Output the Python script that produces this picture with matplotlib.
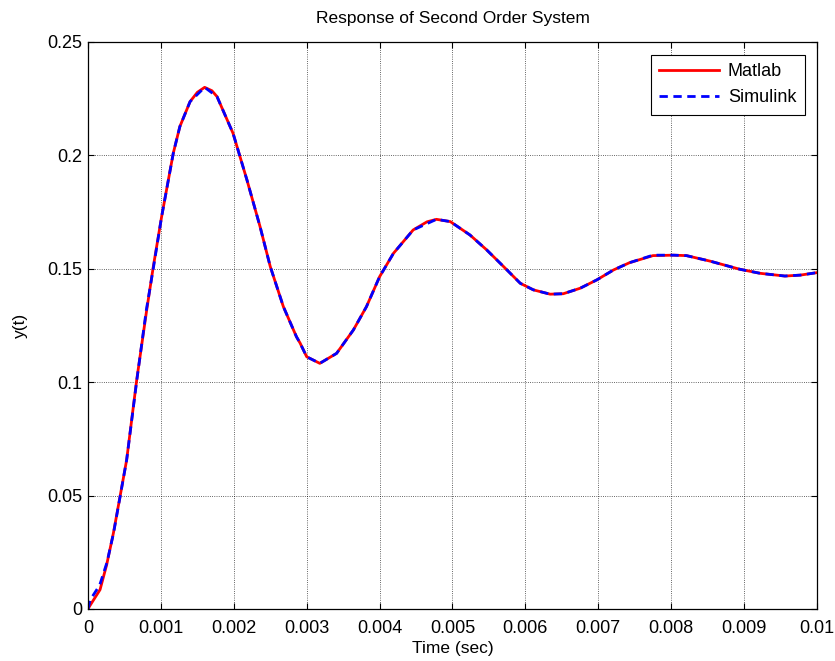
import matplotlib.pyplot as plt

# step response
t_matlab = [0, 0.000027, 0.000165, 0.000256, 0.000348, 0.000439, 0.00053, 0.000668,
            0.000805, 0.000896, 0.00101, 0.00117, 0.00126, 0.0014, 0.0015, 0.0016,
            0.0017, 0.00177, 0.00199, 0.00218, 0.00236, 0.0025, 0.00268, 0.00286,
            0.00291, 0.003, 0.00318, 0.00341, 0.00364, 0.00382, 0.004, 0.00419,
            0.00446, 0.00465, 0.00478, 0.00497, 0.00524, 0.00547, 0.0057, 0.00593,
            0.00611, 0.00634, 0.00652, 0.00675, 0.00698, 0.00721, 0.00743, 0.00775,
            0.00803, 0.00821, 0.00853, 0.00894, 0.00922, 0.00956, 0.00977, 0.01]
y_matlab = [0, 0.0015, 0.0085, 0.0195, 0.0334, 0.0495, 0.0657, 0.101,
            0.1318, 0.151, 0.173, 0.201, 0.2127, 0.2237, 0.2278, 0.2300,
            0.2285, 0.2259, 0.2097, 0.1892, 0.1686, 0.151, 0.1333, 0.12,
            0.1172, 0.1112, 0.1083, 0.1127, 0.123, 0.1333, 0.1465, 0.1568,
            0.1671, 0.1707, 0.1718, 0.1708, 0.1649, 0.1583, 0.151, 0.1436,
            0.1407, 0.1388, 0.1390, 0.1414, 0.1451, 0.1495, 0.1527, 0.1558,
            0.1560, 0.1558, 0.1534, 0.1498, 0.148, 0.1468, 0.1472, 0.1483]

t_simulink = [0, 0.00003, 0.00016, 0.00026, 0.00035, 0.00044, 0.00053, 0.00067,
              0.0008, 0.0009, 0.00101, 0.00117, 0.00126, 0.0014, 0.0016, 0.00177,
              0.00199, 0.00218, 0.00236, 0.0025, 0.00268, 0.00286, 0.00291, 0.003,
              0.00318, 0.00341, 0.00364, 0.00382, 0.004, 0.00419, 0.00446, 0.00478,
              0.00497, 0.00524, 0.00547, 0.0057, 0.00593, 0.00611, 0.00634, 0.00652,
              0.00675, 0.00698, 0.00721, 0.00743, 0.00775, 0.00803, 0.00821, 0.00853,
              0.00894, 0.00922, 0.00956, 0.00977, 0.01]
y_simulink = [0, 0.004, 0.0105, 0.0205, 0.0334, 0.0495, 0.0657, 0.101,
              0.1318, 0.151, 0.173, 0.201, 0.2127, 0.2237, 0.2300, 0.2259,
              0.2097, 0.1892, 0.1686, 0.151, 0.1333, 0.12, 0.1172, 0.1112,
              0.1083, 0.1127, 0.123, 0.1333, 0.1465, 0.1568, 0.1671, 0.1718,
              0.1708, 0.1649, 0.1583, 0.151, 0.1436, 0.1407, 0.1388, 0.1390,
              0.1414, 0.1451, 0.1495, 0.1527, 0.1560, 0.1560, 0.1558, 0.1534,
              0.1498, 0.148, 0.1468, 0.1472, 0.1483]

x_ticks = [0, 0.001, 0.002, 0.003, 0.004, 0.005, 0.006, 0.007, 0.008, 0.009, 0.01]
x_tick_labels = ['0', '0.001', '0.002', '0.003', '0.004', '0.005', '0.006',
                 '0.007', '0.008', '0.009', '0.01']
y_ticks = [0, 0.05, 0.1, 0.15, 0.2, 0.25]
y_tick_labels = ['0', '0.05', '0.1', '0.15', '0.2', '0.25']

plt.rcParams['font.family'] = ['Liberation Sans', 'DejaVu Sans']

fig = plt.figure(figsize=(8.35, 6.61), dpi=100)
ax = fig.add_axes([0.1054, 0.0787, 0.8730, 0.8578])

ax.plot(t_matlab, y_matlab, color='red', linewidth=2, label='Matlab')
ax.plot(t_simulink, y_simulink, color='blue', linewidth=2, linestyle='--',
        dashes=(3, 2), label='Simulink')

ax.set_xlim(0, 0.01)
ax.set_ylim(0, 0.25)
ax.set_xticks(x_ticks)
ax.set_xticklabels(x_tick_labels)
ax.set_yticks(y_ticks)
ax.set_yticklabels(y_tick_labels)
ax.tick_params(direction='in', top=True, right=True, length=4, labelsize=13,
               width=0.8)
ax.tick_params(axis='x', pad=8)
ax.tick_params(axis='y', pad=4)
ax.grid(True, color='black', linestyle=':', linewidth=0.6, alpha=0.8)
for s in ax.spines.values():
    s.set_linewidth(0.9)

ax.set_title('Response of Second Order System', fontsize=12.5, pad=14)
ax.set_xlabel('Time (sec)', fontsize=12.5, labelpad=3)
ax.set_ylabel('y(t)', fontsize=12.5, labelpad=14)

leg = ax.legend(loc='upper right', bbox_to_anchor=(0.988, 0.983), fontsize=13,
                fancybox=False, edgecolor='black', framealpha=1,
                handlelength=3.3, borderpad=0.45, labelspacing=0.5,
                handletextpad=0.5, borderaxespad=0.2)
leg.get_frame().set_linewidth(0.8)

fig.savefig('out.png', dpi=100)
